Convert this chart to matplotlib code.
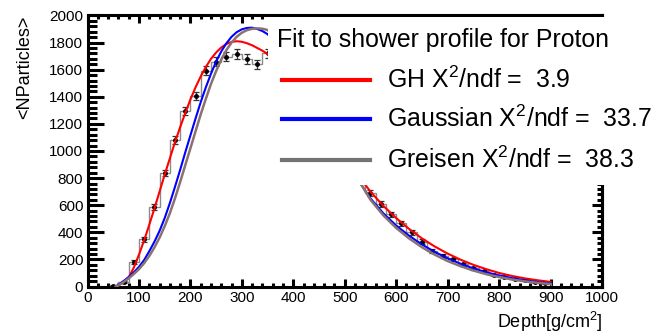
import matplotlib
matplotlib.use("Agg")
import matplotlib.pyplot as plt
from matplotlib.patches import Rectangle
from matplotlib.lines import Line2D
from matplotlib.ticker import MultipleLocator

plt.rcParams["font.family"] = ["Liberation Sans", "DejaVu Sans"]
plt.rcParams["mathtext.fontset"] = "custom"
plt.rcParams["mathtext.rm"] = "Liberation Sans"
plt.rcParams["mathtext.it"] = "Liberation Sans:italic"

# measured shower profile, 20 g/cm2 bins
bin_edges = list(range(40, 901, 20))
counts = [5, 35, 181, 350, 589, 838, 1081, 1295, 1406, 1593, 1659, 1696, 1715,
          1679, 1640, 1721, 1680, 1620, 1540, 1450, 1340, 1220, 1090, 960, 820,
          692, 607, 533, 466, 400, 331, 262, 225, 201, 164, 134, 114, 85, 68,
          55, 45, 34, 25]
errors = [4, 8, 15, 18, 22, 25, 28, 30, 30, 32, 33, 33, 34, 34, 33, 34, 33, 33,
          32, 31, 30, 29, 28, 26, 25, 23, 22, 20, 19, 18, 16, 14, 13, 12, 11,
          10, 9, 8, 7, 6, 5, 5, 4]
centers = [e + 10 for e in bin_edges[:-1]]

# fitted curves
fit_x = [55, 60, 70, 80, 90, 100, 110, 120, 130, 140, 150, 160, 170, 180, 190,
         200, 210, 220, 230, 240, 250, 260, 270, 280, 290, 300, 310, 320, 330,
         340, 350, 375, 400, 425, 450, 475, 500, 525, 550, 575, 600, 625, 650,
         675, 700, 725, 750, 775, 800, 825, 850, 875, 900]
gh_y = [0, 8, 30, 65, 140, 235, 340, 455, 575, 700, 825, 945, 1065, 1175, 1280,
        1380, 1470, 1550, 1620, 1680, 1727, 1764, 1790, 1805, 1810, 1806, 1795,
        1780, 1760, 1740, 1716, 1625, 1515, 1385, 1245, 1100, 960, 825, 700,
        595, 505, 425, 355, 295, 243, 198, 160, 128, 100, 78, 60, 46, 34]
gauss_y = [0, 12, 40, 70, 105, 145, 195, 260, 330, 410, 505, 615, 735, 860, 990,
           1115, 1240, 1360, 1470, 1570, 1660, 1735, 1795, 1843, 1877, 1898,
           1908, 1910, 1900, 1885, 1862, 1760, 1625, 1470, 1300, 1125, 950,
           790, 650, 540, 450, 375, 310, 255, 208, 168, 134, 105, 82, 62, 46,
           33, 23]
greisen_y = [0, 8, 32, 60, 92, 128, 172, 225, 288, 360, 445, 540, 650, 770, 895,
             1020, 1145, 1270, 1385, 1495, 1590, 1675, 1745, 1800, 1843, 1873,
             1892, 1902, 1905, 1902, 1893, 1815, 1700, 1550, 1380, 1195, 985,
             800, 640, 525, 432, 355, 290, 235, 188, 150, 118, 91, 70, 52, 38,
             27, 18]

fig = plt.figure(figsize=(6.54, 3.33), dpi=100)
ax = fig.add_axes([0.1338, 0.1396, 0.7867, 0.8139])

ax.stairs(counts, bin_edges, color="#8a8a8a", linewidth=1.0, zorder=2)
ax.errorbar(centers, counts, yerr=errors, fmt="o", ms=2.5, color="black",
            ecolor="#333333", elinewidth=0.9, capsize=2, capthick=0.9, zorder=3)
ax.plot(fit_x, gh_y, color="#ff0000", linewidth=1.5, zorder=4)
ax.plot(fit_x, gauss_y, color="#0000ff", linewidth=1.5, zorder=4)
ax.plot(fit_x, greisen_y, color="#8a7272", linewidth=1.8, zorder=4)

ax.set_xlim(0, 1000)
ax.set_ylim(0, 2000)
ax.xaxis.set_major_locator(MultipleLocator(100))
ax.xaxis.set_minor_locator(MultipleLocator(20))
ax.yaxis.set_major_locator(MultipleLocator(200))
ax.yaxis.set_minor_locator(MultipleLocator(40))

for s in ax.spines.values():
    s.set_linewidth(2.2)

ax.tick_params(axis="x", which="both", direction="in", top=True, width=2.2,
               labelsize=11, pad=3)
ax.tick_params(axis="x", which="major", length=6)
ax.tick_params(axis="x", which="minor", length=3)
ax.tick_params(axis="y", which="both", direction="in", width=2.2,
               labelsize=11, pad=3)
ax.tick_params(axis="y", which="major", length=11.5)
ax.tick_params(axis="y", which="minor", length=6.5)

sec = ax.secondary_yaxis("right")
sec.yaxis.set_major_locator(MultipleLocator(200))
sec.yaxis.set_minor_locator(MultipleLocator(40))
sec.tick_params(which="both", direction="in", width=2.2, labelright=False)
sec.tick_params(which="major", length=7)
sec.tick_params(which="minor", length=3.5)
sec.spines["right"].set_linewidth(2.2)

ax.set_ylabel("<NParticles>", fontsize=13, loc="top")
ax.yaxis.set_label_coords(-0.106, 1.0)
ax.set_xlabel("Depth[g/cm$^{2}$]", fontsize=13, loc="right")
ax.xaxis.set_label_coords(1.0, -0.085)

# legend box: white, no border, covers the upper right of the plot
fig.add_artist(Rectangle((0.4098, 0.4444), 0.6, 0.5046, transform=fig.transFigure,
                         facecolor="white", edgecolor="none", zorder=10))
fig.text(0.4235, 0.8799, "Fit to shower profile for Proton", fontsize=17.9,
         va="center", ha="left", zorder=11)
entries = [("#ff0000", "GH X$^{2}$/ndf =  3.9", 0.7598),
           ("#0000ff", "Gaussian X$^{2}$/ndf =  33.7", 0.6426),
           ("#737373", "Greisen X$^{2}$/ndf =  38.3", 0.5195)]
for color, label, y in entries:
    fig.add_artist(Line2D([0.4312, 0.5657], [y, y], transform=fig.transFigure,
                          color=color, linewidth=3, zorder=11))
    fig.text(0.5917, y, label, fontsize=17.9, va="center", ha="left", zorder=11)

fig.savefig("out.png", dpi=100)
